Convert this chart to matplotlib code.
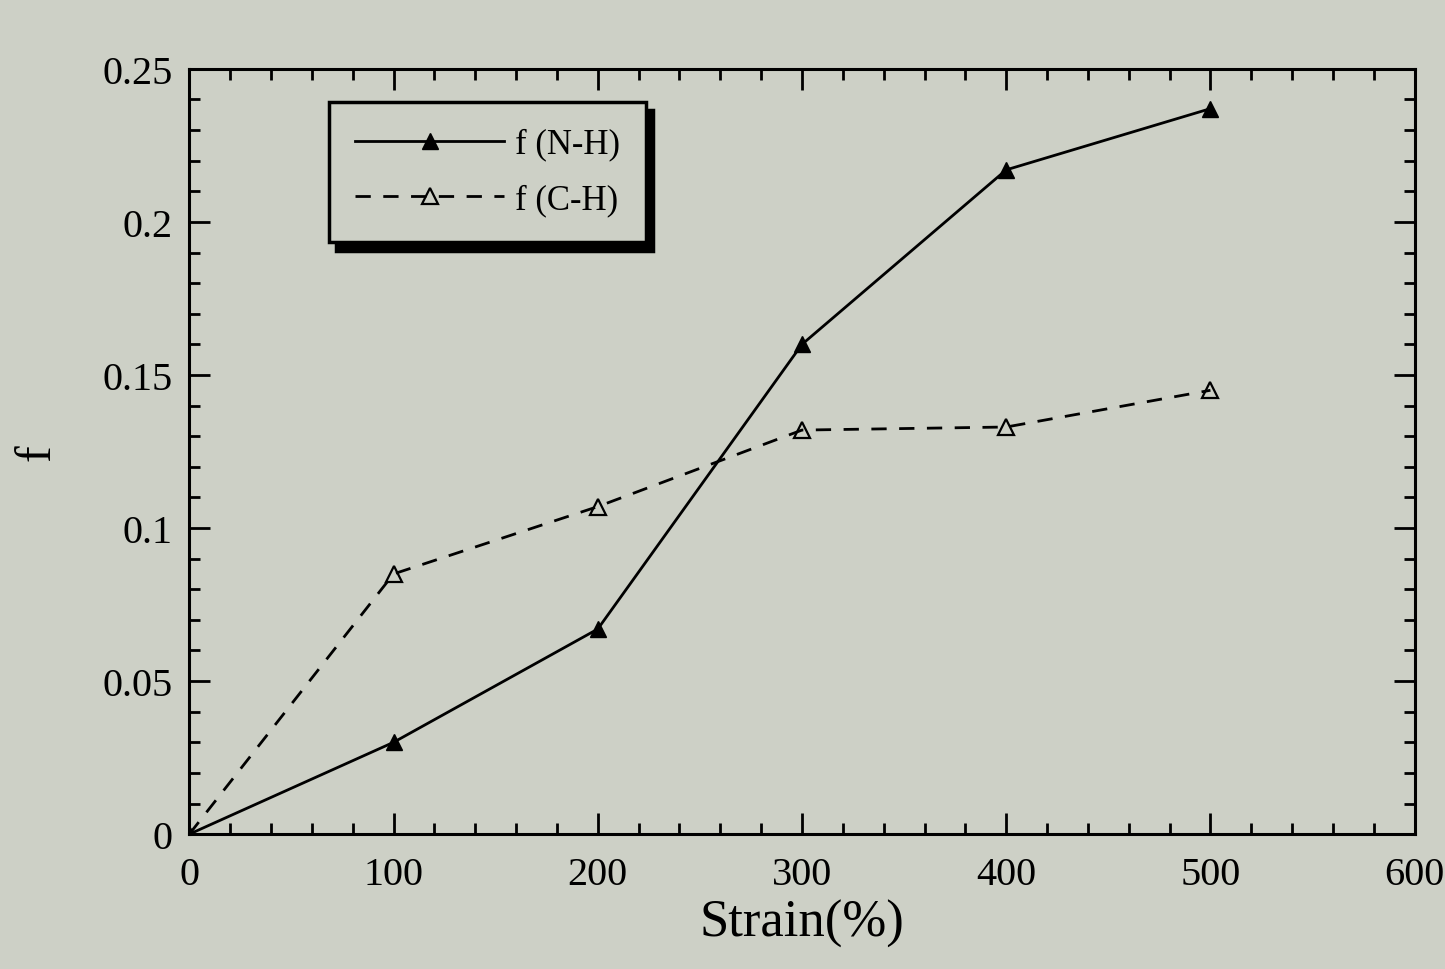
import numpy as np
import matplotlib.pyplot as plt
from matplotlib.ticker import MultipleLocator

plt.rcParams['font.family'] = ['Liberation Serif', 'DejaVu Serif']

# data
strain = [0, 100, 200, 300, 400, 500]
f_nh = [0.0, 0.030, 0.067, 0.160, 0.217, 0.237]
f_ch = [0.0, 0.085, 0.107, 0.132, 0.133, 0.145]

x_ticks = [0, 100, 200, 300, 400, 500, 600]
y_ticks = [0, 0.05, 0.1, 0.15, 0.2, 0.25]
y_labels = ["0", "0.05", "0.1", "0.15", "0.2", "0.25"]

bg = "#cdd0c6"
fig = plt.figure(figsize=(14.45, 9.7), dpi=100, facecolor=bg)
ax = fig.add_axes([0.131, 0.139, 0.848, 0.789])
ax.set_facecolor(bg)

ax.plot(strain, f_nh, color="black", lw=2.0, marker="^", ms=12,
        mfc="black", mec="black", label="f (N-H)")
ax.plot(strain, f_ch, color="black", lw=2.0, ls=(0, (5.5, 4.5)), marker="^", ms=12,
        mfc="none", mec="black", mew=1.6, label="f (C-H)")

ax.set_xlim(0, 600)
ax.set_ylim(0, 0.25)
ax.set_xticks(x_ticks)
ax.set_yticks(y_ticks)
ax.set_yticklabels(y_labels)
ax.xaxis.set_minor_locator(MultipleLocator(20))
ax.yaxis.set_minor_locator(MultipleLocator(0.01))
ax.tick_params(which="both", direction="in", top=True, right=True,
               labelsize=29, width=2.0)
ax.tick_params(axis="x", pad=16)
ax.tick_params(axis="y", pad=12)
ax.tick_params(which="major", length=15)
ax.tick_params(which="minor", length=8)
for s in ax.spines.values():
    s.set_linewidth(2.2)

ax.set_xlabel("Strain(%)", fontsize=38, labelpad=4)
ax.set_ylabel("f", fontsize=36, labelpad=30)

leg = ax.legend(loc="upper left", bbox_to_anchor=(0.114, 0.957), borderaxespad=0,
                fontsize=25, handlelength=4.3, numpoints=1, frameon=True,
                fancybox=False, borderpad=0.75, labelspacing=0.65,
                handletextpad=0.3,
                shadow={"color": "black", "alpha": 1, "ox": 5, "oy": -6})
leg.get_frame().set_edgecolor("black")
leg.get_frame().set_linewidth(2.5)
leg.get_frame().set_facecolor(bg)
leg.get_frame().set_alpha(1)

fig.savefig("out.png", dpi=100, facecolor=bg)
